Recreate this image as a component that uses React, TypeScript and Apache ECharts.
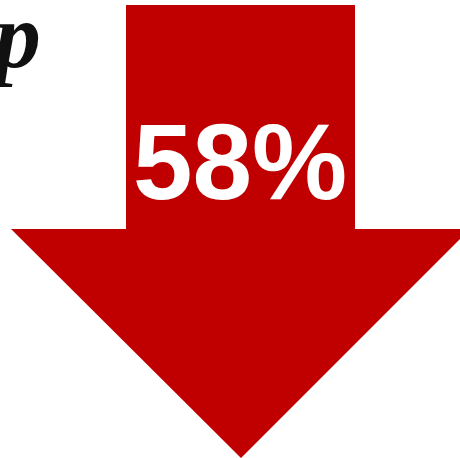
import React, { useEffect, useRef } from "react";
import * as echarts from "echarts";

const percentValues = [58];
const labels = ["58%"];
const titleFragment = ["p"];

export default function App() {
  const ref = useRef<HTMLDivElement>(null);
  useEffect(() => {
    if (!ref.current) return;
    const chart = echarts.init(ref.current, null, { renderer: "svg" });
    const red = "#C00000";
    chart.setOption({
      animation: false,
      backgroundColor: "#ffffff",
      graphic: [
        {
          type: "polygon",
          shape: {
            points: [
              [126, 5],
              [355, 5],
              [355, 229],
              [470, 229],
              [241, 458],
              [11, 229],
              [126, 229],
            ],
          },
          style: { fill: red },
        },
        {
          type: "text",
          x: 240,
          y: 162,
          style: {
            text: labels[0],
            fill: "#ffffff",
            font: "bold 107px 'Liberation Sans', Arial, sans-serif",
            textAlign: "center",
            textVerticalAlign: "middle",
          },
        },
        {
          type: "text",
          x: 41,
          y: -12,
          style: {
            text: titleFragment[0],
            fill: "#111111",
            font: "italic bold 94px 'Liberation Serif', 'Times New Roman', serif",
            textAlign: "right",
            textVerticalAlign: "top",
          },
        },
      ],
    });
    return () => chart.dispose();
  }, []);
  return (
    <div
      ref={ref}
      data-value={percentValues[0]}
      style={{ position: "fixed", left: 0, top: 0, width: 460, height: 458 }}
    />
  );
}
